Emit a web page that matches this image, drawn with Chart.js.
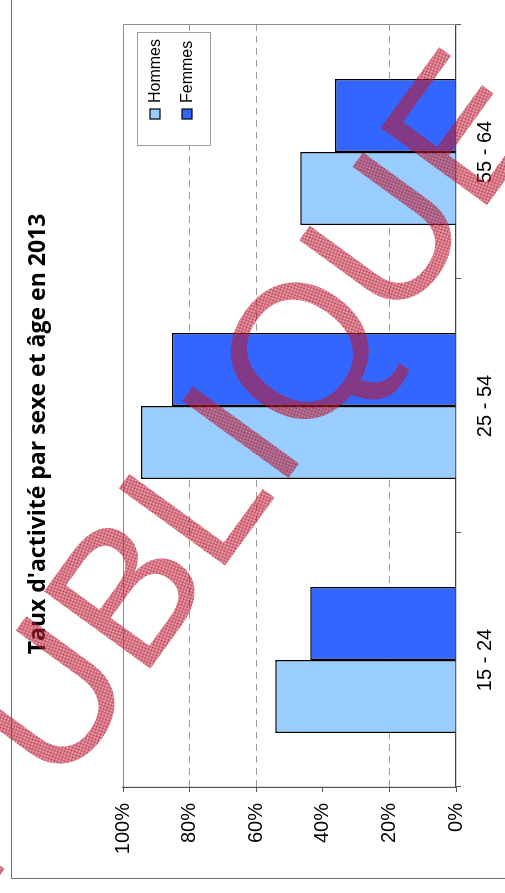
<!DOCTYPE html>
<html lang="fr">
<head>
<meta charset="utf-8">
<title>Taux d'activité par sexe et âge en 2013</title>
<script src="https://cdn.jsdelivr.net/npm/chart.js@4.4.1/dist/chart.umd.min.js"></script>
<style>
    html, body { margin: 0; padding: 0; background: #fff; overflow: hidden; }
    /* the chart is laid out flat, then turned a quarter turn to stand on its side */
    #wrap {
        position: absolute;
        left: 0;
        top: 0;
        width: 893px;
        height: 505px;
        transform-origin: 0 0;
        transform: translateY(893px) rotate(-90deg);
    }
</style>
</head>
<body>
<div id="wrap"><canvas id="chart" width="893" height="505"></canvas></div>
<script>
// Data
const ageGroups = ['15 - 24', '25 - 54', '55 - 64'];
const hommes = [54.3, 94.6, 46.8];
const femmes = [43.8, 85.3, 36.3];
const percentTicks = [0, 20, 40, 60, 80, 100];
const dashedAt = [20, 60, 80];
const chartTitle = "Taux d'activité par sexe et âge en 2013";
const stampText = 'PUBLIQUE';

// outer frame, plot box, title and the small legend in the top corner
const frame = {
    id: 'frame',
    beforeDatasetsDraw(chart) {
        const { ctx, chartArea: a } = chart;
        ctx.save();
        ctx.strokeStyle = '#8c8c8c';
        ctx.lineWidth = 1;
        ctx.beginPath();
        ctx.moveTo(a.left, a.top + 0.5);
        ctx.lineTo(a.right + 0.5, a.top + 0.5);
        ctx.lineTo(a.right + 0.5, a.bottom);
        ctx.stroke();
        ctx.strokeStyle = '#6e6e6e';
        ctx.beginPath();
        ctx.moveTo(14.5, chart.height);
        ctx.lineTo(14.5, 11.5);
        ctx.lineTo(chart.width, 11.5);
        ctx.stroke();

        ctx.fillStyle = '#000';
        ctx.font = 'bold 23px "Open Sans", sans-serif';
        ctx.textAlign = 'center';
        ctx.textBaseline = 'middle';
        ctx.fillText(chartTitle, (a.left + a.right) / 2 - 28, 38);
        ctx.restore();
    },
    afterDatasetsDraw(chart) {
        const { ctx, chartArea: a } = chart;
        const box = { x: a.right - 121, y: a.top + 14, w: 113, h: 73 };
        ctx.save();
        ctx.fillStyle = '#fff';
        ctx.fillRect(box.x, box.y, box.w, box.h);
        ctx.strokeStyle = '#a0a0a0';
        ctx.lineWidth = 1;
        ctx.strokeRect(box.x + 0.5, box.y + 0.5, box.w, box.h);
        ctx.font = '16px "Liberation Sans", Arial, sans-serif';
        ctx.textBaseline = 'middle';
        chart.data.datasets.forEach((ds, i) => {
            const cy = box.y + 18 + i * 32;
            ctx.fillStyle = ds.backgroundColor;
            ctx.fillRect(box.x + 27, cy - 5, 10, 10);
            ctx.strokeStyle = '#000';
            ctx.lineWidth = 1.2;
            ctx.strokeRect(box.x + 27, cy - 5, 10, 10);
            ctx.fillStyle = '#000';
            ctx.fillText(ds.label, box.x + 43, cy + 1);
        });
        ctx.restore();
    }
};

// red hatched stamp across the whole sheet
const stamp = {
    id: 'stamp',
    afterDraw(chart) {
        const { ctx } = chart;
        const tile = document.createElement('canvas');
        tile.width = 2;
        tile.height = 2;
        const t = tile.getContext('2d');
        t.fillStyle = 'rgba(185, 25, 50, 0.88)';
        t.fillRect(0, 0, 1, 1);
        t.fillRect(1, 1, 1, 1);
        t.fillStyle = 'rgba(185, 25, 50, 0.3)';
        t.fillRect(1, 0, 1, 1);
        t.fillRect(0, 1, 1, 1);
        ctx.save();
        ctx.translate(-3, -15);
        ctx.rotate(36 * Math.PI / 180);
        ctx.font = '191px "Liberation Sans", Arial, sans-serif';
        ctx.textBaseline = 'alphabetic';
        ctx.fillStyle = ctx.createPattern(tile, 'repeat');
        ctx.fillText(stampText, 0, 0);
        ctx.restore();
    }
};

new Chart(document.getElementById('chart'), {
    type: 'bar',
    data: {
        labels: ageGroups,
        datasets: [{
            label: 'Hommes',
            data: hommes,
            backgroundColor: '#99ccff',
            borderColor: '#000',
            borderWidth: 1.5
        }, {
            label: 'Femmes',
            data: femmes,
            backgroundColor: '#3366ff',
            borderColor: '#000',
            borderWidth: 1.5
        }]
    },
    options: {
        responsive: false,
        animation: false,
        devicePixelRatio: 1,
        layout: { padding: { left: 30, right: 25, top: 123, bottom: 0 } },
        datasets: { bar: { categoryPercentage: 0.575, barPercentage: 1 } },
        plugins: {
            legend: { display: false },
            tooltip: { enabled: false },
            title: { display: false }
        },
        scales: {
            x: {
                afterFit(scale) { scale.height = 49; },
                grid: { offset: true, drawOnChartArea: false, tickLength: 5, tickColor: '#555' },
                border: { color: '#444', width: 1.2 },
                ticks: {
                    color: '#000',
                    padding: 12,
                    font: { family: '"Liberation Sans", Arial, sans-serif', size: 20 }
                }
            },
            y: {
                min: 0,
                max: 100,
                afterFit(scale) { scale.width = 76; },
                afterBuildTicks(scale) { scale.ticks = percentTicks.map(v => ({ value: v })); },
                grid: {
                    color: ctx => dashedAt.includes(ctx.tick && ctx.tick.value) ? '#9a9a9a' : 'rgba(0,0,0,0)',
                    tickLength: 5,
                    tickColor: '#555'
                },
                border: { color: '#555', width: 1.2, dash: [7, 5] },
                ticks: {
                    color: '#000',
                    padding: 11,
                    callback: v => v + '%',
                    font: { family: '"Liberation Sans", Arial, sans-serif', size: 20 }
                }
            }
        }
    },
    plugins: [frame, stamp]
});
</script>
</body>
</html>
